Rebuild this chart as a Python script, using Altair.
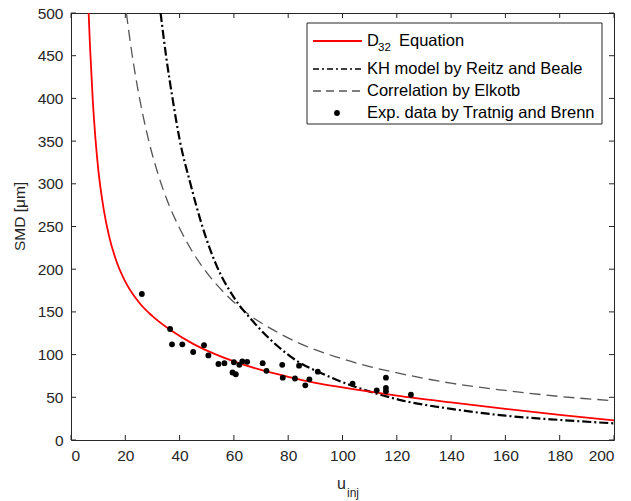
import altair as alt
import pandas as pd

# ---- data ----
exp_u = [26.1, 36.5, 37.2, 41.0, 45.0, 49.0, 50.6, 54.3, 56.5, 59.5, 60.0, 60.7, 62.0, 63.1, 64.9,
         70.6, 72.0, 77.8, 78.0, 82.5, 84.0, 86.3, 87.8, 90.9, 103.7, 112.6, 116.0, 116.0, 116.0, 125.2]
exp_smd = [171, 130, 112, 112, 103, 111, 99, 89, 90, 79, 91, 77, 88, 92, 91.5,
           90, 81, 88, 73, 72, 87, 64, 71, 80, 66, 58, 73, 61, 57, 53]

d32_u = [6.5, 7, 8, 9, 10, 12, 14, 17, 20, 25, 30, 36.5, 45, 52, 60, 70, 80, 90,
         100, 120, 140, 160, 180, 200]
d32_smd = [500, 461, 399, 353, 318, 271, 239, 207, 185.5, 161.3, 145, 129, 112.6, 102, 92, 82, 74, 67,
           61.5, 52, 44, 36.5, 29.5, 23]

elk_u = [20.4, 22, 24, 26, 28.9, 32, 36, 40, 45, 50, 57.8, 65, 75, 85, 98, 110, 121, 140, 160, 180, 200]
elk_smd = [500, 462, 422, 388, 347, 312, 276, 248, 219, 196, 168, 148, 128, 112, 97, 86, 78, 66.5, 58, 51, 46]

kh_u = [33, 35, 37.5, 40, 44, 48, 53.5, 60, 67, 75, 84, 92, 104, 114, 121, 140, 160, 180, 200]
kh_smd = [500, 450, 398, 352, 300, 254, 205, 167, 139, 113, 91, 78.5, 63, 53, 47, 36.5, 28.5, 23.5, 19.5]

x_ticks = [0, 20, 40, 60, 80, 100, 120, 140, 160, 180, 200]
y_ticks = [0, 50, 100, 150, 200, 250, 300, 350, 400, 450, 500]

legend_labels = ["KH model by Reitz and Beale", "Correlation by Elkotb", "Exp. data by Tratnig and Brenn"]

W, H = 543, 427
FONT = "Liberation Sans"
AX = "#262626"
LFS = 16.5

xs = alt.Scale(domain=[0, 200], nice=False)
ys = alt.Scale(domain=[0, 500], nice=False)

exp_df = pd.DataFrame({"u": exp_u, "smd": exp_smd})
d32_df = pd.DataFrame({"u": d32_u, "smd": d32_smd})
elk_df = pd.DataFrame({"u": elk_u, "smd": elk_smd})
kh_df = pd.DataFrame({"u": kh_u, "smd": kh_smd})
xt_df = pd.DataFrame({"t": x_ticks})
yt_df = pd.DataFrame({"t": y_ticks})

X = alt.X("u:Q", scale=xs, axis=alt.Axis(values=x_ticks, title=None, ticks=False, domain=False,
                                          grid=False, labelPadding=8))
Y = alt.Y("smd:Q", scale=ys, axis=alt.Axis(values=y_ticks, title="SMD [μm]", ticks=False, domain=False,
                                            grid=False, labelPadding=8, titlePadding=10, titleY=203))

base_axes = alt.Chart(exp_df).mark_point(opacity=0).encode(x=X, y=Y)

elk = alt.Chart(elk_df).mark_line(color="#555555", strokeWidth=1.3, strokeDash=[11, 6],
                                  interpolate="monotone", clip=True).encode(
    x=alt.X("u:Q", scale=xs), y=alt.Y("smd:Q", scale=ys))
kh = alt.Chart(kh_df).mark_line(color="#000000", strokeWidth=2.2, strokeDash=[9, 3, 2, 3],
                                interpolate="monotone", clip=True).encode(
    x=alt.X("u:Q", scale=xs), y=alt.Y("smd:Q", scale=ys))
d32 = alt.Chart(d32_df).mark_line(color="#ff0000", strokeWidth=1.8,
                                  interpolate="monotone", clip=True).encode(
    x=alt.X("u:Q", scale=xs), y=alt.Y("smd:Q", scale=ys))
pts = alt.Chart(exp_df).mark_circle(color="#000000", size=34, opacity=1).encode(
    x=alt.X("u:Q", scale=xs), y=alt.Y("smd:Q", scale=ys))

# inward ticks
tick_len = 5
xt_bot = alt.Chart(xt_df).mark_rule(color=AX, strokeWidth=1).encode(
    x=alt.X("t:Q", scale=xs), y=alt.value(H), y2=alt.value(H - tick_len))
xt_top = alt.Chart(xt_df).mark_rule(color=AX, strokeWidth=1).encode(
    x=alt.X("t:Q", scale=xs), y=alt.value(0), y2=alt.value(tick_len))
yt_l = alt.Chart(yt_df).mark_rule(color=AX, strokeWidth=1).encode(
    y=alt.Y("t:Q", scale=ys), x=alt.value(0), x2=alt.value(tick_len))
yt_r = alt.Chart(yt_df).mark_rule(color=AX, strokeWidth=1).encode(
    y=alt.Y("t:Q", scale=ys), x=alt.value(W), x2=alt.value(W - tick_len))

# x-axis title with subscript
xt_u = alt.Chart(xt_df.head(1)).mark_text(text="u", font=FONT, fontSize=16, color=AX,
                                           align="left", baseline="alphabetic").encode(
    x=alt.value(266), y=alt.value(476))
xt_inj = alt.Chart(xt_df.head(1)).mark_text(text="inj", font=FONT, fontSize=12, color=AX,
                                             align="left", baseline="alphabetic").encode(
    x=alt.value(276), y=alt.value(484))

# legend
LX0, LX1 = 236, 531
leg_box = alt.Chart(xt_df.head(1)).mark_rect(fill="white", stroke=AX, strokeWidth=1).encode(
    x=alt.value(LX0), x2=alt.value(LX1), y=alt.value(10), y2=alt.value(111))
l1 = alt.Chart(xt_df.head(1)).mark_rule(color="#ff0000", strokeWidth=1.8).encode(
    x=alt.value(242), x2=alt.value(291), y=alt.value(28))
l2 = alt.Chart(xt_df.head(1)).mark_rule(color="#000000", strokeWidth=1.3, strokeDash=[6, 3, 2, 3]).encode(
    x=alt.value(242), x2=alt.value(291), y=alt.value(56))
l3 = alt.Chart(xt_df.head(1)).mark_rule(color="#555555", strokeWidth=1.3, strokeDash=[8, 5]).encode(
    x=alt.value(242), x2=alt.value(291), y=alt.value(78))
l4 = alt.Chart(xt_df.head(1)).mark_circle(color="#000000", size=34, opacity=1).encode(
    x=alt.value(266), y=alt.value(100))

def ltxt(txt, x, y, size=LFS, baseline="middle"):
    return alt.Chart(xt_df.head(1)).mark_text(text=txt, font=FONT, fontSize=size, color="#000000",
                                               align="left", baseline=baseline).encode(
        x=alt.value(x), y=alt.value(y))

t1a = ltxt("D", 296, 28)
t1b = ltxt("32", 307, 35, size=11.5)
t1c = ltxt("Equation", 328, 28)
t2 = ltxt(legend_labels[0], 296, 56)
t3 = ltxt(legend_labels[1], 296, 78)
t4 = ltxt(legend_labels[2], 296, 100)

chart = alt.layer(
    base_axes, elk, kh, d32, pts, xt_bot, xt_top, yt_l, yt_r, xt_u, xt_inj,
    leg_box, l1, l2, l3, l4, t1a, t1b, t1c, t2, t3, t4
).properties(
    width=W, height=H,
    autosize=alt.AutoSizeParams(type="none"),
    padding={"left": 71, "top": 13, "right": 17, "bottom": 61},
    background="white",
).configure_view(
    stroke=AX, strokeWidth=1
).configure_axis(
    labelFont=FONT, labelFontSize=15.5, labelColor=AX,
    titleFont=FONT, titleFontSize=15.5, titleColor=AX, titleFontWeight="normal",
)

chart.save("out.html", embed_options={"renderer": "svg", "actions": False})
